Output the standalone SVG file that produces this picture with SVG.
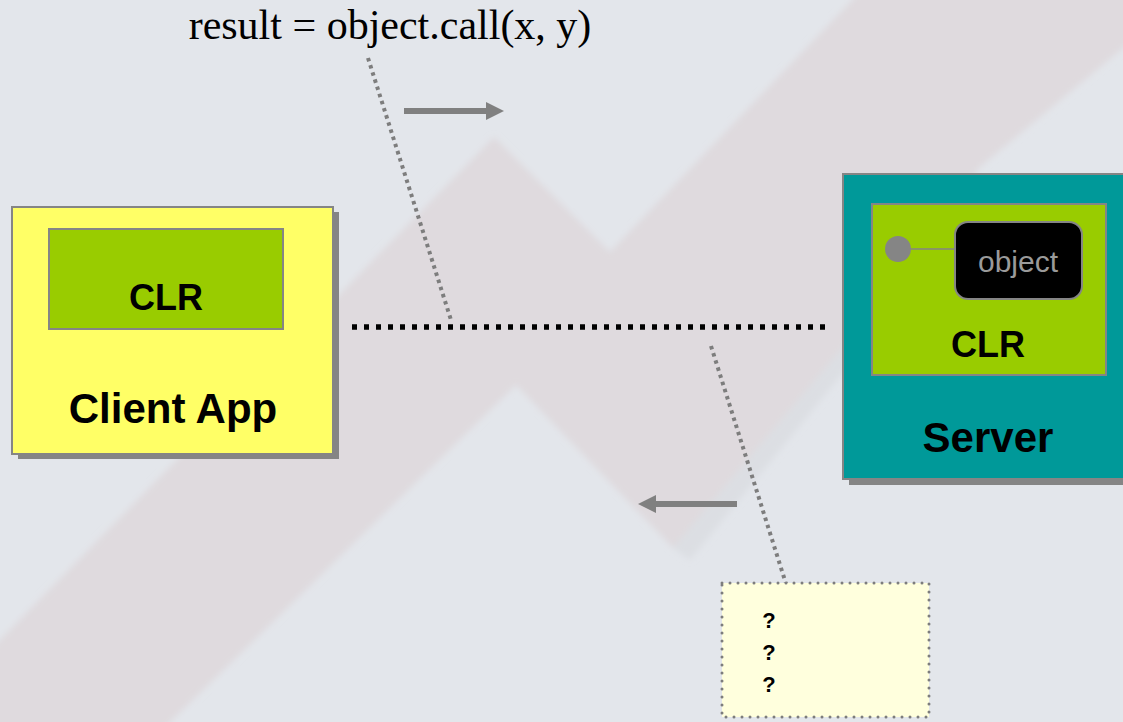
<svg xmlns="http://www.w3.org/2000/svg" width="1123" height="722" viewBox="0 0 1123 722">
  <style>
    .box { stroke: #858585; stroke-width: 2; }
    .shadow { fill: #858585; }
    .bold { font-family: "Liberation Sans", Arial, sans-serif; font-weight: bold; fill: #000; text-anchor: middle; }
    .lead { fill: none; stroke: #7d7d7d; stroke-width: 4; stroke-dasharray: 3.5 4; }
    .arrow { fill: #808080; }
  </style>
  <defs>
    <filter id="blur" x="-20%" y="-20%" width="140%" height="140%">
      <feGaussianBlur stdDeviation="3"/>
    </filter>
  </defs>

  <!-- background -->
  <rect x="0" y="0" width="1123" height="722" fill="#e3e6eb"/>
  <g id="background-band" filter="url(#blur)">
    <path d="M -10 650 L 494 137 L 610 252 L 862 -10 L 1133 -10 L 1133 40 L 980 167 L 860 327 L 673 548 L 516 385 L 160 732 L -10 732 Z" fill="#dfdade"/>
    <path d="M 673 548 L 860 327 L 870 340 L 690 560 Z" fill="#d8dbe0" opacity="0.7"/>
  </g>

  <!-- connectors -->
  <g id="connectors">
    <line x1="352" y1="327" x2="825" y2="327" stroke="#000" stroke-width="5.5" stroke-dasharray="5 7"/>
    <line class="lead" x1="368" y1="58" x2="451" y2="320"/>
    <line class="lead" x1="711" y1="346" x2="793" y2="606"/>
    <g id="arrow-right">
      <rect class="arrow" x="404" y="108" width="84" height="6"/>
      <polygon class="arrow" points="486,102 504,111 486,120"/>
    </g>
    <g id="arrow-left">
      <rect class="arrow" x="654" y="501" width="83" height="6"/>
      <polygon class="arrow" points="656,495 638,504 656,513"/>
    </g>
  </g>

  <!-- title -->
  <g id="title">
    <text x="390" y="39" font-family="'Liberation Serif', 'Times New Roman', serif" font-size="42" fill="#000" text-anchor="middle">result = object.call(x, y)</text>
  </g>

  <!-- Client App -->
  <g id="client-app">
    <rect class="shadow" x="18" y="212" width="321" height="247"/>
    <rect class="box" x="12" y="207" width="321" height="247" fill="#ffff66"/>
    <g id="client-clr">
      <rect class="box" x="49" y="229" width="234" height="100" fill="#99cc00"/>
      <text class="bold" x="166" y="310" font-size="36">CLR</text>
    </g>
    <text class="bold" x="173" y="423" font-size="42">Client App</text>
  </g>

  <!-- Server -->
  <g id="server">
    <rect class="shadow" x="849" y="180" width="290" height="305"/>
    <rect class="box" x="843" y="174" width="290" height="305" fill="#009999"/>
    <g id="server-clr">
      <rect class="box" x="872" y="204" width="234" height="171" fill="#99cc00"/>
      <text class="bold" x="988" y="357" font-size="36">CLR</text>
    </g>
    <g id="object">
      <line x1="905" y1="249" x2="956" y2="249" stroke="#858585" stroke-width="1.5"/>
      <circle cx="898" cy="249" r="13" fill="#858585"/>
      <rect x="955" y="222" width="127" height="77" rx="13" ry="13" fill="#000" stroke="#858585" stroke-width="2"/>
      <text x="1018" y="272" font-family="'Liberation Sans', Arial, sans-serif" font-size="30" fill="#9a9a9a" text-anchor="middle">object</text>
    </g>
    <text class="bold" x="988" y="452" font-size="42">Server</text>
  </g>

  <!-- Note -->
  <g id="note">
    <rect x="722" y="583" width="207" height="134" fill="#ffffdd" stroke="#7d7d7d" stroke-width="3" stroke-linecap="round" stroke-dasharray="0 8"/>
    <text class="bold" x="769" y="628" font-size="22">?</text>
    <text class="bold" x="769" y="660" font-size="22">?</text>
    <text class="bold" x="769" y="692" font-size="22">?</text>
  </g>
</svg>
